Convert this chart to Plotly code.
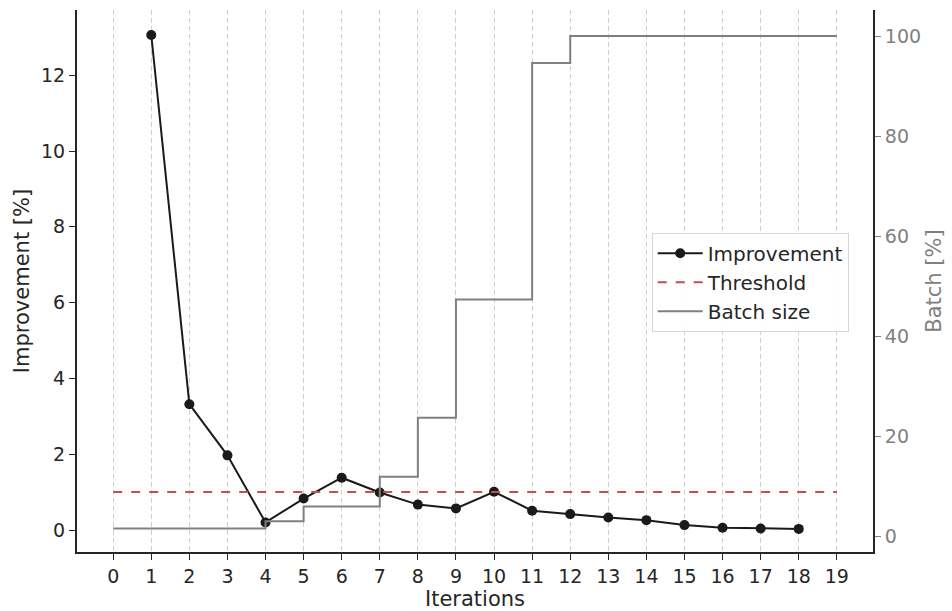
import plotly.graph_objects as go

iterations = list(range(1, 19))
improvement = [13.06, 3.32, 1.97, 0.20, 0.83, 1.38, 0.99, 0.67, 0.57, 1.01,
               0.51, 0.42, 0.33, 0.26, 0.13, 0.06, 0.04, 0.03]
threshold_x = [0, 19]
threshold_y = [1.0, 1.0]
batch_x = list(range(0, 20))
batch_size = [1.48, 1.48, 1.48, 1.48, 2.96, 5.91, 5.91, 11.83, 23.65, 47.3,
              47.3, 94.6, 100, 100, 100, 100, 100, 100, 100, 100]
x_ticks = list(range(0, 20))

FONT = "DejaVu Sans"
DARK = "#1a1a1a"
GRAY = "#808080"
RED = "#c44e52"

fig = go.Figure()
fig.add_trace(go.Scatter(x=batch_x, y=batch_size, mode="lines", name="Batch size",
                         line=dict(color=GRAY, width=2, shape="hv"), yaxis="y2",
                         legendrank=3))
fig.add_trace(go.Scatter(x=iterations, y=improvement, mode="lines+markers", name="Improvement",
                         line=dict(color=DARK, width=2), marker=dict(color=DARK, size=10),
                         legendrank=1))
fig.add_trace(go.Scatter(x=threshold_x, y=threshold_y, mode="lines", name="Threshold",
                         line=dict(color=RED, width=2, dash="dash"), legendrank=2))

fig.update_layout(
    width=952, height=611,
    margin=dict(l=77, r=79, t=10, b=59),
    plot_bgcolor="white", paper_bgcolor="white",
    font=dict(family=FONT, size=19, color="#262626"),
    showlegend=True,
    legend=dict(x=0.722, y=0.589, xanchor="left", yanchor="top", itemwidth=45,
                bgcolor="rgba(255,255,255,0.9)", bordercolor="#d6d6d6", borderwidth=1,
                font=dict(size=20, color="#262626"), traceorder="normal"),
    xaxis=dict(range=[-0.95, 19.95], tickvals=x_ticks, ticks="outside", ticklen=6,
               tickcolor="#262626", showgrid=True, gridcolor="#cfcfcf", griddash="5px,3px",
               gridwidth=1, zeroline=False, showline=True, linecolor="#262626", linewidth=2,
               automargin=False,
               title=dict(text="Iterations", standoff=4, font=dict(size=21)),
               tickfont=dict(size=19)),
    yaxis=dict(range=[-0.58, 13.72], tickvals=[0, 2, 4, 6, 8, 10, 12], ticks="outside",
               ticklen=6, tickcolor="#262626", showgrid=False, zeroline=False,
               showline=True, linecolor="#262626", linewidth=2, automargin=False,
               title=dict(text="Improvement [%]", standoff=6, font=dict(size=21)),
               tickfont=dict(size=19)),
    yaxis2=dict(range=[-3.2, 105.2], tickvals=[0, 20, 40, 60, 80, 100], overlaying="y",
                side="right", ticks="outside", ticklen=6, tickcolor=GRAY, showgrid=False,
                zeroline=False, showline=True, linecolor="#262626", linewidth=2,
                automargin=False, tickfont=dict(size=19, color=GRAY),
                title=dict(text="Batch [%]", font=dict(color=GRAY, size=21), standoff=6)),
)

fig.write_html("out.html")
